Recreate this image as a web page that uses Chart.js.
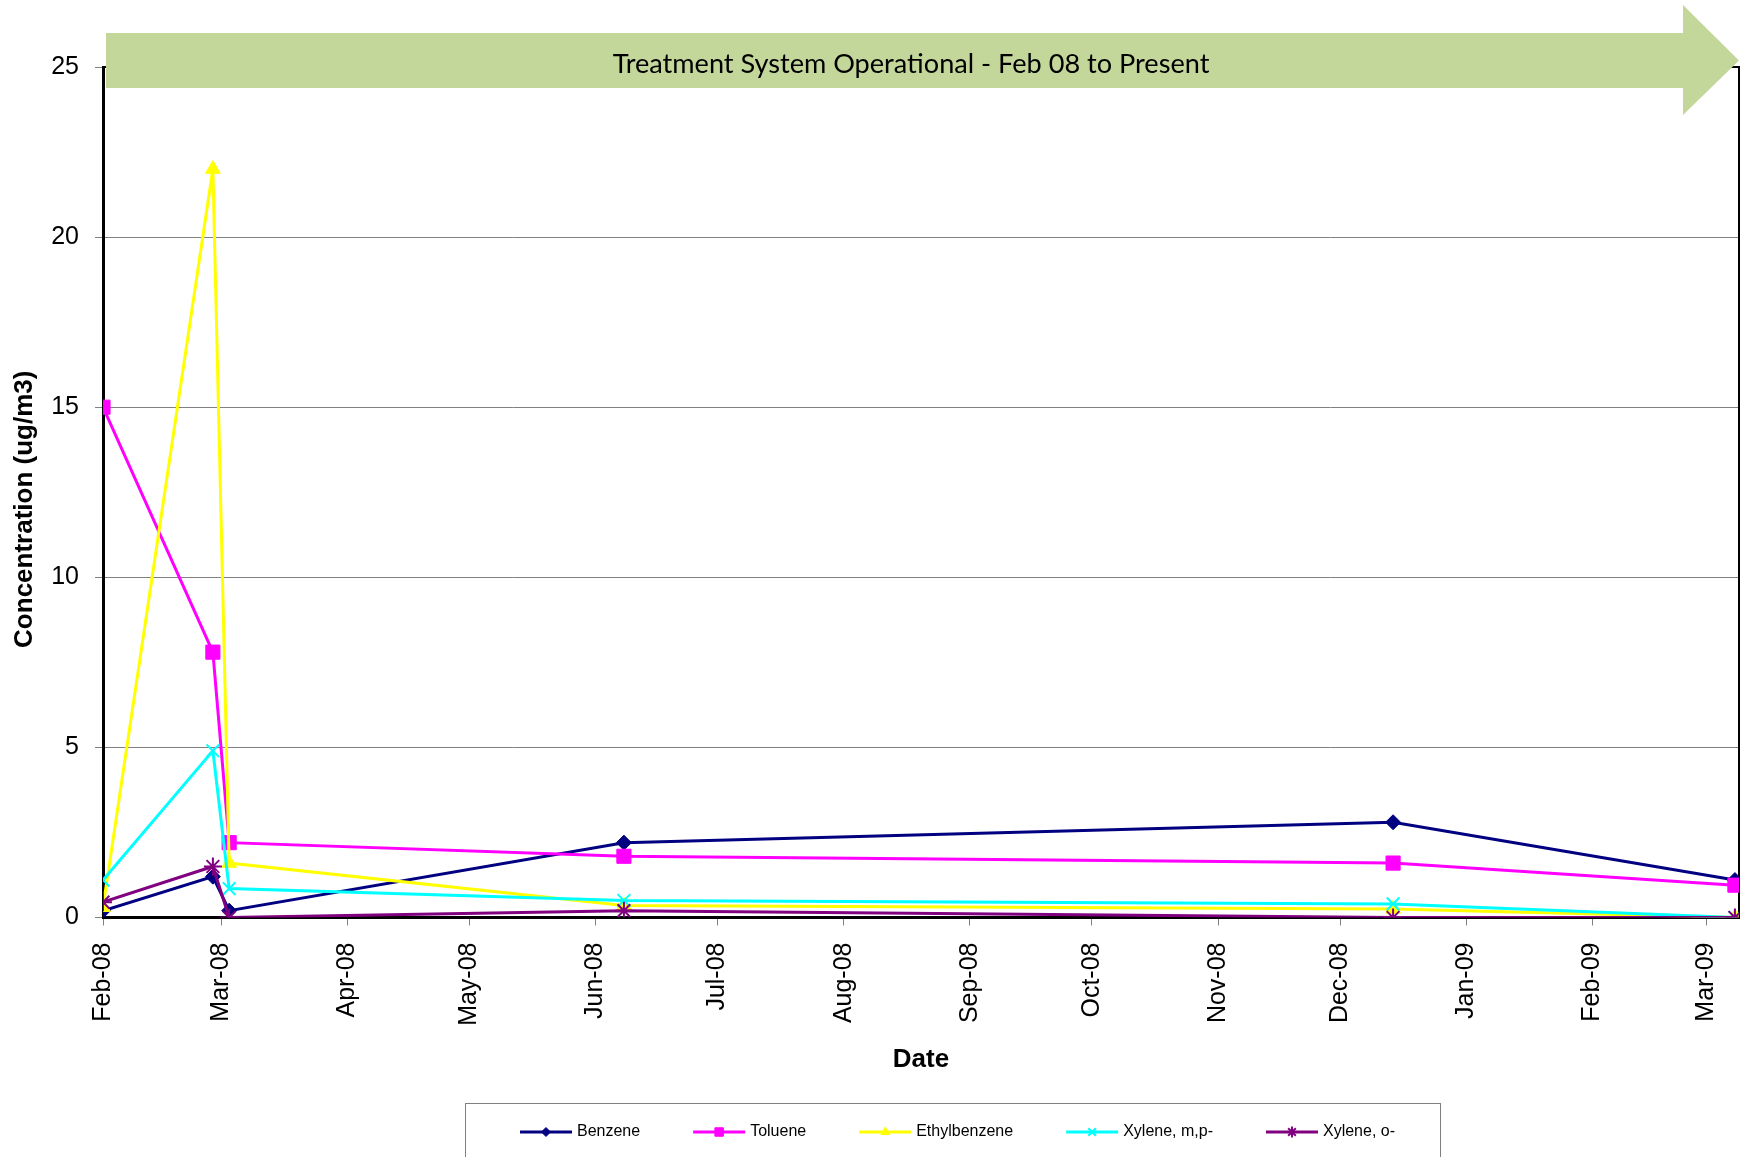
<!DOCTYPE html>
<html>
<head>
<meta charset="utf-8">
<title>Concentration (ug/m3) vs Date</title>
<script src="https://cdn.jsdelivr.net/npm/chart.js@4.4.1/dist/chart.umd.min.js"></script>
<style>
  html, body { margin: 0; padding: 0; background: #ffffff; }
  #wrap { width: 1750px; height: 1157px; }
</style>
</head>
<body>
<div id="wrap"><canvas id="chart-conc" width="1750" height="1157"></canvas></div>
<script>
// ---- data ----
const sampleDates  = ['2008-02-01', '2008-02-28', '2008-03-03', '2008-06-08', '2008-12-14', '2009-03-08'];
const benzene      = [0.2, 1.2, 0.2, 2.2, 2.8, 1.1];
const toluene      = [15, 7.8, 2.2, 1.8, 1.6, 0.95];
const ethylbenzene = [0.3, 22, 1.6, 0.35, 0.25, 0];
const xyleneMP     = [1.1, 4.9, 0.85, 0.5, 0.4, 0];
const xyleneO      = [0.45, 1.5, 0, 0.2, 0, 0];

const tickDates  = ['2008-02-01', '2008-03-01', '2008-04-01', '2008-05-01', '2008-06-01', '2008-07-01', '2008-08-01',
                    '2008-09-01', '2008-10-01', '2008-11-01', '2008-12-01', '2009-01-01', '2009-02-01', '2009-03-01'];
const tickLabels = ['Feb-08', 'Mar-08', 'Apr-08', 'May-08', 'Jun-08', 'Jul-08', 'Aug-08',
                    'Sep-08', 'Oct-08', 'Nov-08', 'Dec-08', 'Jan-09', 'Feb-09', 'Mar-09'];
const yTicks = [0, 5, 10, 15, 20, 25];
const axisStart = '2008-02-01';
const axisEnd   = '2009-03-09';
const bannerText = 'Treatment System Operational - Feb 08 to Present';

const FONT = "'Liberation Sans', Arial, sans-serif";

// days since axis start (x is a plain linear scale, no date adapter)
function dayOf(s) {
    const p = s.split('-').map(Number);
    const p0 = axisStart.split('-').map(Number);
    return (Date.UTC(p[0], p[1] - 1, p[2]) - Date.UTC(p0[0], p0[1] - 1, p0[2])) / 86400000;
}
const tickDays = tickDates.map(dayOf);

function series(values) {
    return values.map((v, i) => ({ x: dayOf(sampleDates[i]), y: v }));
}

function makeSet(label, values, color, style, radius, order) {
    return {
        label: label,
        data: series(values),
        borderColor: color,
        backgroundColor: color,
        borderWidth: 3,
        tension: 0,
        pointStyle: style,
        pointRadius: radius,
        pointBorderWidth: (style === 'crossRot' || style === 'star') ? 2 : 1,
        pointBackgroundColor: color,
        pointBorderColor: color,
        order: order
    };
}

// plot frame: top + right edge (left/bottom come from the axes)
const frame = {
    id: 'frame',
    beforeDatasetsDraw(chart) {
        const a = chart.chartArea, c = chart.ctx;
        c.save();
        c.strokeStyle = '#000';
        c.lineWidth = 2;
        c.beginPath();
        c.moveTo(a.left, a.top);
        c.lineTo(a.right, a.top);
        c.lineTo(a.right, a.bottom);
        c.stroke();
        c.restore();
    }
};

// green arrow banner across the top
const banner = {
    id: 'banner',
    afterDraw(chart) {
        const a = chart.chartArea, c = chart.ctx;
        const bodyTop = a.top - 34, bodyBot = a.top + 21;
        const headX = a.right - 56;
        c.save();
        c.fillStyle = '#c4d79b';
        c.beginPath();
        c.moveTo(a.left + 3, bodyTop);
        c.lineTo(headX, bodyTop);
        c.lineTo(headX, a.top - 62);
        c.lineTo(a.right, (bodyTop + bodyBot) / 2);
        c.lineTo(headX, a.top + 48);
        c.lineTo(headX, bodyBot);
        c.lineTo(a.left + 3, bodyBot);
        c.closePath();
        c.fill();

        c.font = "26px Lato, 'Open Sans', sans-serif";
        const w = c.measureText(bannerText).width;
        const size = 26 * 597 / w;
        c.font = size.toFixed(2) + "px Lato, 'Open Sans', sans-serif";
        c.fillStyle = '#000';
        c.textAlign = 'center';
        c.textBaseline = 'middle';
        c.fillText(bannerText, a.left + 808, a.top - 3);
        c.restore();
    }
};

// y axis title (Excel centres it a little lower than the plot middle)
const yTitle = {
    id: 'yTitle',
    afterDraw(chart) {
        const a = chart.chartArea, c = chart.ctx;
        c.save();
        c.translate(25, (a.top + a.bottom) / 2 + 17);
        c.rotate(-Math.PI / 2);
        c.font = 'bold 26px ' + FONT;
        c.fillStyle = '#000';
        c.textAlign = 'center';
        c.textBaseline = 'middle';
        c.fillText('Concentration (ug/m3)', 0, 0);
        c.restore();
    }
};

// boxed legend below the x axis title: line sample + marker + label
const lineLegend = {
    id: 'lineLegend',
    afterDraw(chart) {
        const c = chart.ctx;
        const box = { left: 465, top: 1103, right: 1440 };
        const yMid = 1132, sample = 52, gap = 5, spacing = 53;
        c.save();
        c.strokeStyle = '#808080';
        c.lineWidth = 1;
        c.strokeRect(box.left + 0.5, box.top + 0.5, box.right - box.left, 80);

        c.font = '16px ' + FONT;
        const sets = chart.data.datasets;
        const widths = sets.map(d => sample + gap + c.measureText(d.label).width);
        const total = widths.reduce((s, w) => s + w, 0) + spacing * (sets.length - 1);
        let x = (box.left + box.right) / 2 - total / 2 + 5;
        sets.forEach((d, i) => {
            c.strokeStyle = d.borderColor;
            c.fillStyle = d.borderColor;
            c.lineWidth = 3;
            c.beginPath();
            c.moveTo(x, yMid);
            c.lineTo(x + sample, yMid);
            c.stroke();
            c.lineWidth = d.pointBorderWidth;
            Chart.helpers.drawPoint(c, {
                pointStyle: d.pointStyle, rotation: 0,
                radius: d.pointRadius * 0.6, borderWidth: d.pointBorderWidth
            }, x + sample / 2, yMid);
            c.fillStyle = '#000';
            c.textAlign = 'left';
            c.textBaseline = 'middle';
            c.fillText(d.label, x + sample + gap, yMid);
            x += widths[i] + spacing;
        });
        c.restore();
    }
};

const ctx = document.getElementById('chart-conc');
new Chart(ctx.getContext('2d'), {
    type: 'line',
    data: {
        datasets: [
            makeSet('Benzene', benzene, '#000080', 'rectRot', 7.5, 5),
            makeSet('Toluene', toluene, '#ff00ff', 'rect', 10, 4),
            makeSet('Ethylbenzene', ethylbenzene, '#ffff00', 'triangle', 8.5, 3),
            makeSet('Xylene, m,p-', xyleneMP, '#00ffff', 'crossRot', 9, 2),
            makeSet('Xylene, o-', xyleneO, '#800080', 'star', 9, 1)
        ]
    },
    options: {
        responsive: false,
        animation: false,
        layout: { padding: { top: 67, right: 8, bottom: 80, left: 0 } },
        plugins: {
            legend: { display: false },
            tooltip: { enabled: false }
        },
        scales: {
            x: {
                type: 'linear',
                min: dayOf(axisStart),
                max: dayOf(axisEnd),
                afterBuildTicks: s => { s.ticks = tickDays.map(v => ({ value: v })); },
                afterFit: s => { s.height = 159.5; s.paddingRight = 0; s.paddingLeft = 0; },
                ticks: {
                    autoSkip: false,
                    minRotation: 90,
                    maxRotation: 90,
                    padding: 17,
                    color: '#000',
                    font: { family: FONT, size: 25 },
                    callback: v => tickLabels[tickDays.indexOf(v)]
                },
                grid: { drawOnChartArea: false, drawTicks: true, tickLength: 8, tickColor: '#808080', tickWidth: 1 },
                border: { color: '#000', width: 3 },
                title: {
                    display: true,
                    text: 'Date',
                    color: '#000',
                    font: { family: FONT, size: 26, weight: 'bold' },
                    padding: { top: 0, bottom: 2 }
                }
            },
            y: {
                min: 0,
                max: 25,
                afterBuildTicks: s => { s.ticks = yTicks.map(v => ({ value: v })); },
                afterFit: s => { s.width = 103; },
                ticks: { padding: 16, color: '#000', font: { family: FONT, size: 25 } },
                grid: {
                    color: c => (c.tick && c.tick.value === 0) ? 'rgba(0,0,0,0)' : '#808080',
                    tickColor: '#808080',
                    lineWidth: 1,
                    tickLength: 8
                },
                border: { color: '#000', width: 3 }
            }
        }
    },
    plugins: [frame, banner, yTitle, lineLegend]
});
</script>
</body>
</html>
